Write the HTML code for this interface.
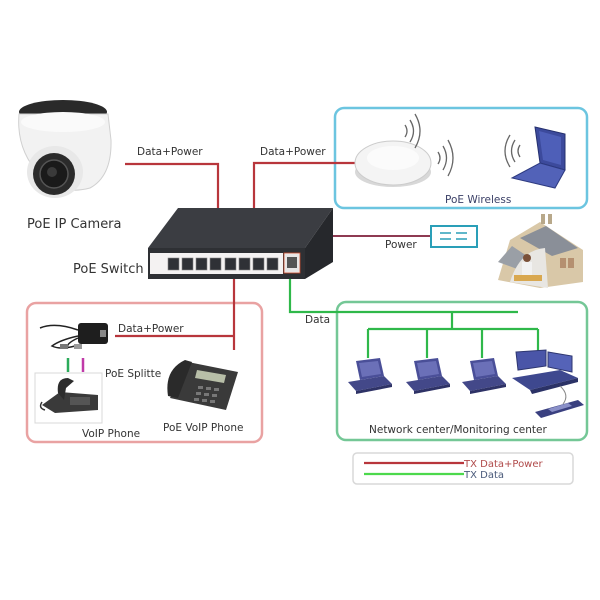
<!DOCTYPE html>
<html><head><meta charset="utf-8"><style>
html,body{margin:0;padding:0;background:#fff;}
svg{display:block;}
text{font-family:"DejaVu Sans","Liberation Sans",sans-serif;}
</style></head><body>
<svg width="600" height="600" viewBox="0 0 600 600" xmlns="http://www.w3.org/2000/svg">
<rect width="600" height="600" fill="#fff"/>

<!-- Boxes -->
<rect x="335" y="108" width="252" height="100" rx="9" fill="none" stroke="#6cc5e0" stroke-width="2.5"/>
<rect x="27" y="303" width="235" height="139" rx="9" fill="none" stroke="#e9a2a2" stroke-width="2.5"/>
<rect x="337" y="302" width="250" height="138" rx="9" fill="none" stroke="#74c796" stroke-width="2.5"/>
<rect x="353" y="453" width="220" height="31" rx="4" fill="none" stroke="#d8d8d8" stroke-width="1.5"/>

<!-- Red lines -->
<g stroke="#b8363c" stroke-width="2.2" fill="none">
<polyline points="125,164 218,164 218,209"/>
<polyline points="356,163 254,163 254,209"/>
<line x1="234" y1="278" x2="234" y2="350"/>
<line x1="115" y1="336" x2="234" y2="336"/>
<line x1="364" y1="463" x2="464" y2="463"/>
</g>
<line x1="333" y1="236" x2="430" y2="236" stroke="#8e3a52" stroke-width="2"/>

<!-- Green lines -->
<g stroke="#2fb84a" stroke-width="2.2" fill="none">
<polyline points="290,278 290,312 518,312"/>
<line x1="452" y1="312" x2="452" y2="329"/>
<line x1="368" y1="329" x2="538" y2="329"/>
<line x1="368" y1="329" x2="368" y2="358"/>
<line x1="427" y1="329" x2="427" y2="358"/>
<line x1="482" y1="329" x2="482" y2="358"/>
<line x1="538" y1="329" x2="538" y2="352"/>
</g>
<line x1="364" y1="474" x2="464" y2="474" stroke="#4cd94c" stroke-width="2.2"/>

<!-- Camera -->
<g>
<ellipse cx="63" cy="112" rx="44" ry="12" fill="#2a2a2a"/>
<path d="M19,114 Q16,150 40,175 Q60,196 90,188 Q112,176 111,140 L108,114 Z" fill="#f2f2f2" stroke="#d0d0d0" stroke-width="1"/>
<ellipse cx="63" cy="122" rx="42" ry="10" fill="#fafafa"/>
<ellipse cx="55" cy="172" rx="28" ry="26" fill="#e8e8e8"/>
<circle cx="54" cy="174" r="21" fill="#2b2b2b"/>
<circle cx="54" cy="174" r="14" fill="#1a1a1a" stroke="#555" stroke-width="1.5"/>
<circle cx="52" cy="172" r="5" fill="#3a3a3a"/>
</g>

<!-- Switch -->
<polygon points="178,208 333,208 305,248 148,248" fill="#3b3d42"/>
<polygon points="333,208 333,262 305,279 305,248" fill="#26282c"/>
<rect x="148" y="248" width="157" height="31" fill="#2e3034"/>
<rect x="150" y="253" width="133" height="21" fill="#f4f2f2"/>
<g fill="#2f3136" stroke="#888" stroke-width="0.6">
<rect x="168" y="258" width="11" height="12"/>
<rect x="182" y="258" width="11" height="12"/>
<rect x="196" y="258" width="11" height="12"/>
<rect x="210" y="258" width="11" height="12"/>
<rect x="225" y="258" width="11" height="12"/>
<rect x="239" y="258" width="11" height="12"/>
<rect x="253" y="258" width="11" height="12"/>
<rect x="267" y="258" width="11" height="12"/>
</g>
<rect x="284" y="253" width="16" height="20" fill="#e8e6e6" stroke="#d04a2a" stroke-width="0.8"/>
<rect x="287" y="257" width="10" height="11" fill="#555"/>

<!-- AP -->
<ellipse cx="393" cy="172" rx="38" ry="15" fill="#d8d8d8"/>
<ellipse cx="393" cy="163" rx="38" ry="22" fill="#f4f4f4" stroke="#ccc" stroke-width="1"/>
<ellipse cx="393" cy="158" rx="26" ry="12" fill="#fbfbfb"/>
<g fill="none" stroke="#666" stroke-width="1.3">
<path d="M405,125 Q409,131 405,137"/>
<path d="M410,120 Q417,131 410,142"/>
<path d="M415,114 Q425,131 415,148"/>
<path d="M438,152 Q442,158 438,164"/>
<path d="M443,146 Q450,158 443,170"/>
<path d="M448,140 Q458,158 448,176"/>
<path d="M520,157 Q516,151 520,145"/>
<path d="M515,162 Q508,151 515,140"/>
<path d="M510,167 Q500,151 510,135"/>
</g>
<!-- Laptop -->
<polygon points="535,127 565,134 565,170 540,163" fill="#3c4a9c" stroke="#25306e" stroke-width="1"/>
<polygon points="539,131 561,137 561,165 543,160" fill="#4e5fb8"/>
<polygon points="540,163 565,170 555,188 512,178" fill="#5262b8" stroke="#2d3a80" stroke-width="1"/>

<!-- Power box -->
<rect x="431" y="226" width="46" height="21" fill="#fff" stroke="#2a9fb8" stroke-width="2"/>
<g stroke="#2a9fb8" stroke-width="1.5">
<line x1="440" y1="233" x2="451" y2="233"/><line x1="440" y1="239" x2="451" y2="239"/>
<line x1="456" y1="233" x2="467" y2="233"/><line x1="456" y1="239" x2="467" y2="239"/>
</g>

<!-- House -->
<g>
<polygon points="510,240 540,222 583,250 583,282 540,288 498,280" fill="#d9c8a8"/>
<polygon points="520,238 546,226 578,248 552,256" fill="#8a8f98"/>
<polygon points="498,262 512,246 530,258 520,270" fill="#9a9fa6"/>
<rect x="541" y="214" width="4" height="10" fill="#b8a88a"/>
<rect x="548" y="214" width="4" height="10" fill="#b8a88a"/>
<path d="M510,282 Q520,250 545,248 L548,288 Z" fill="#e8e6e2"/>
<circle cx="527" cy="258" r="4" fill="#7a5038"/>
<rect x="522" y="262" width="10" height="14" fill="#f2f2f2"/>
<rect x="514" y="275" width="28" height="6" fill="#d9a850"/>
<rect x="560" y="258" width="6" height="10" fill="#b59070"/>
<rect x="568" y="258" width="6" height="10" fill="#b59070"/>
</g>

<!-- Splitter -->
<g>
<path d="M78,330 Q55,322 40,328" fill="none" stroke="#222" stroke-width="1.5"/>
<path d="M78,336 Q60,340 52,346 Q60,350 75,346" fill="none" stroke="#222" stroke-width="1.5"/>
<path d="M78,338 Q65,344 68,348" fill="none" stroke="#222" stroke-width="1.5"/>
<rect x="78" y="323" width="30" height="21" rx="3" fill="#1e1e1e"/>
<rect x="100" y="330" width="6" height="7" fill="#888"/>
<rect x="60" y="344" width="8" height="5" fill="#777"/>
<rect x="74" y="344" width="8" height="5" fill="#999"/>
</g>
<line x1="68" y1="358" x2="68" y2="372" stroke="#2bab5a" stroke-width="2.5"/>
<line x1="83" y1="358" x2="83" y2="372" stroke="#c03aa8" stroke-width="2.5"/>
<rect x="35" y="373" width="67" height="50" fill="#fff" stroke="#d8d8d8" stroke-width="1"/>
<!-- VoIP phone -->
<polygon points="42,405 60,392 98,395 98,410 55,413" fill="#3a3a3a"/>
<path d="M58,393 Q56,378 68,378 L74,381 L66,388 L64,400 Z" fill="#2c2c2c"/>
<path d="M45,410 Q38,408 42,402" fill="none" stroke="#333" stroke-width="1.5"/>
<rect x="70" y="397" width="20" height="8" fill="#555"/>

<!-- PoE VoIP Phone -->
<g>
<polygon points="170,398 188,362 238,372 226,410" fill="#3a3a3a"/>
<path d="M168,396 Q164,370 185,360 L192,362 L178,398 Z" fill="#2a2a2a"/>
<polygon points="197,370 226,375 224,383 195,378" fill="#b8bfa8"/>
<g fill="#777">
<rect x="198" y="386" width="5" height="3"/><rect x="206" y="387" width="5" height="3"/><rect x="214" y="388" width="5" height="3"/>
<rect x="196" y="392" width="5" height="3"/><rect x="204" y="393" width="5" height="3"/><rect x="212" y="394" width="5" height="3"/>
<rect x="194" y="398" width="5" height="3"/><rect x="202" y="399" width="5" height="3"/><rect x="210" y="400" width="5" height="3"/>
</g>
</g>

<!-- Computers -->
<g id="pc">
<polygon points="356,361 380,358 384,376 360,380" fill="#4a4f98"/>
<polygon points="359,363 378,361 381,374 362,377" fill="#6b70b8"/>
<polygon points="348,382 384,376 392,384 356,391" fill="#434889"/>
<polygon points="356,391 392,384 392,387 356,394" fill="#2e3266"/>
</g>
<use href="#pc" x="58" y="0"/>
<use href="#pc" x="114" y="0"/>
<!-- workstation -->
<polygon points="516,352 546,350 546,366 518,370" fill="#4a55a8" stroke="#2e3670" stroke-width="1"/>
<polygon points="548,352 572,356 572,372 548,367" fill="#5563b8" stroke="#2e3670" stroke-width="1"/>
<polygon points="512,378 560,370 578,378 530,390" fill="#3e488f"/>
<polygon points="530,390 578,378 578,382 532,394" fill="#2b3266"/>
<path d="M560,386 Q570,395 563,404" fill="none" stroke="#888" stroke-width="1"/>
<polygon points="535,412 578,400 584,405 541,418" fill="#3a4080"/>
<polygon points="548,409 568,403 572,406 552,412" fill="#8a90c8"/>

<!-- Labels -->
<g fill="#333" font-size="10.5">
<text x="137" y="155">Data+Power</text>
<text x="260" y="155">Data+Power</text>
<text x="118" y="332">Data+Power</text>
<text x="385" y="248">Power</text>
<text x="305" y="323">Data</text>
<text x="105" y="377">PoE  Splitte</text>
<text x="82" y="437">VoIP Phone</text>
<text x="163" y="431">PoE VoIP Phone</text>
<text x="369" y="433">Network center/Monitoring center</text>
</g>
<text x="27" y="228" font-size="13" fill="#333">PoE IP Camera</text>
<text x="73" y="273" font-size="13" fill="#333">PoE Switch</text>
<text x="445" y="203" font-size="10.5" fill="#3a3f66">PoE Wireless</text>
<text x="464" y="467" font-size="10" fill="#b04a4a">TX Data+Power</text>
<text x="464" y="478" font-size="10" fill="#4a5a7a">TX Data</text>
</svg>
</body></html>
